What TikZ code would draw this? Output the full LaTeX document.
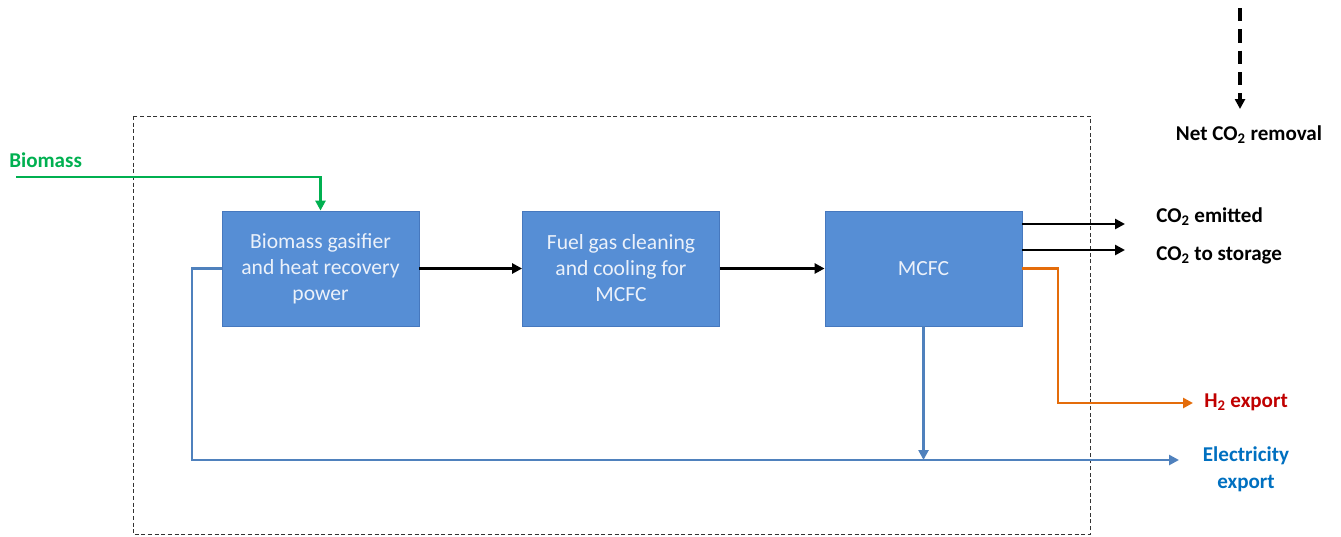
\documentclass[tikz,border=0pt]{standalone}
\usepackage{fontspec}
\setmainfont{Carlito}
\usetikzlibrary{arrows.meta}
\definecolor{boxblue}{RGB}{86,142,213}
\definecolor{boxedge}{RGB}{70,120,190}
\definecolor{lineblue}{RGB}{79,129,189}
\definecolor{txtblue}{RGB}{0,112,192}
\definecolor{bgreen}{RGB}{0,176,80}
\definecolor{orng}{RGB}{228,108,10}
\definecolor{hred}{RGB}{192,0,0}
\definecolor{boxtxt}{RGB}{235,241,250}
\tikzset{
  procbox/.style={draw=boxedge, line width=0.6pt, fill=boxblue, minimum width=147.75pt, minimum height=86.25pt, align=center, text=boxtxt, font=\fontsize{16.2}{19.5}\selectfont, inner sep=0pt},
  lbl/.style={font=\fontsize{15.8}{20}\selectfont\bfseries, inner sep=0pt, align=center},
  flow/.style={line width=2pt, -{Triangle[length=7.5pt,width=7.5pt]}},
}
\begin{document}
\begin{tikzpicture}[x=0.75pt,y=-0.75pt]
\useasboundingbox (0,0) rectangle (1341,536);
% system boundary
\draw[black!80, line width=0.6pt, dash pattern=on 3pt off 2pt] (133,116) rectangle (1090,534.5);
% boxes
\node[procbox] (b1) at (320.5,268.5) {Biomass gasifier\\and heat recovery\\power};
\node[procbox] (b2) at (621,268.5) {Fuel gas cleaning\\and cooling for\\MCFC};
\node[procbox] (b3) at (923.5,268.5) {MCFC};
% labels
\node[lbl, text=bgreen, anchor=west] (biom) at (9,160) {Biomass};
\node[lbl, anchor=west] (co2e) at (1156,217) {CO\textsubscript{2} emitted};
\node[lbl, anchor=west] (co2s) at (1156,255) {CO\textsubscript{2} to storage};
\node[lbl, text=hred, anchor=west] (h2) at (1204,402) {H\textsubscript{2} export};
\node[lbl, text=txtblue] (elec) at (1246,469) {Electricity\\export};
\node[lbl] (net) at (1249,135) {Net CO\textsubscript{2} removal};
% coordinates
\coordinate (bstart) at (16,177);
\coordinate (netstart) at (1240,8);
\coordinate (netend) at (1240,109);
\coordinate (co2eend) at (1125,224);
\coordinate (co2send) at (1125,250);
\coordinate (h2end) at (1193,403);
\coordinate (elecend) at (1179,460);
% flows
\draw[flow, bgreen] (bstart) -| (b1.north);
\draw[flow] (b1.east) -- (b2.west);
\draw[flow] (b2.east) -- (b3.west);
\draw[flow] (b3.east |- co2eend) -- (co2eend);
\draw[flow] (b3.east |- co2send) -- (co2send);
\draw[flow, orng] (b3.east) -- (1058,268.5) -- (1058,403) -- (h2end);
\draw[flow, lineblue] (b1.west) -- (192,268.5) -- (192,460) -- (elecend);
\draw[flow, lineblue] (b3.south) -- (b3.south |- elecend);
\draw[flow, line width=2.4pt, dash pattern=on 10pt off 6pt] (netstart) -- (netend);
\end{tikzpicture}
\end{document}
